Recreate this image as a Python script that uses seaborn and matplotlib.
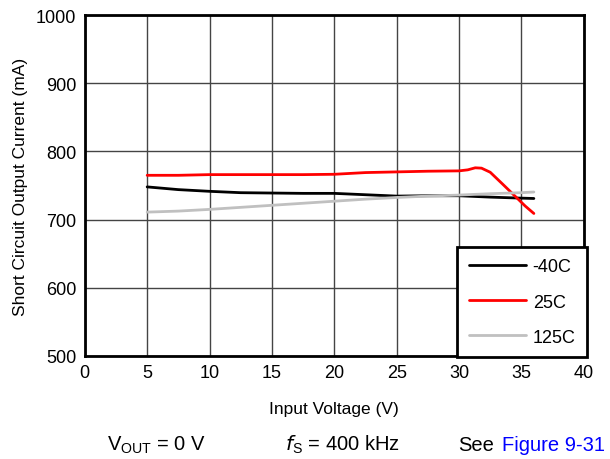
import matplotlib
matplotlib.use("Agg")
import matplotlib.pyplot as plt
import seaborn as sns
import pandas as pd

# readings
v_cold = [5, 7.5, 10, 12.5, 15, 17.5, 20, 22.5, 25, 27.5, 30, 32.5, 35, 36]
i_cold = [748, 744, 741.5, 739.5, 739, 738.5, 738.5, 736.5, 734.5, 735, 735, 733, 731.5, 731]

v_room = [5, 7.5, 10, 12.5, 15, 17.5, 20, 22.5, 25, 27.5, 30, 30.7, 31.3, 31.8, 32.5, 33.5, 34.6, 35.3, 36]
i_room = [765, 765, 766, 766, 766, 766, 766.5, 769, 770, 771, 771.5, 773, 776, 775.5, 769.5, 752, 732.5, 720, 709]

v_hot = [5, 7.5, 10, 12.5, 15, 17.5, 20, 22.5, 25, 27.5, 30, 32.5, 35, 36]
i_hot = [711, 712.5, 715, 718, 721, 724, 727, 730, 732.5, 734.5, 736, 738, 739.5, 740.5]

series_names = ["-40C", "25C", "125C"]
series_colors = ["#000000", "#ff0000", "#c0c0c0"]

frames = []
for name, vs, cs in zip(series_names, [v_cold, v_room, v_hot], [i_cold, i_room, i_hot]):
    frames.append(pd.DataFrame({"Input Voltage (V)": vs, "Current": cs, "Temp": name}))
df = pd.concat(frames, ignore_index=True)

sns.set_style("white")
plt.rcParams['font.family'] = ['Liberation Sans', 'DejaVu Sans']
plt.rcParams['text.color'] = 'black'
plt.rcParams['axes.labelcolor'] = 'black'
plt.rcParams['xtick.color'] = 'black'
plt.rcParams['ytick.color'] = 'black'

fig = plt.figure(figsize=(6.1, 4.6), dpi=100)
ax = fig.add_axes([0.139, 0.224, 0.818, 0.741])

sns.lineplot(data=df, x="Input Voltage (V)", y="Current", hue="Temp",
             palette=dict(zip(series_names, series_colors)), hue_order=series_names,
             linewidth=2, sort=False, estimator=None, ax=ax)

ax.set_xlim(0, 40)
ax.set_ylim(500, 1000)
ax.set_xticks(range(0, 41, 5))
ax.set_yticks(range(500, 1001, 100))
ax.grid(True, color="#444444", linewidth=1)
ax.set_axisbelow(True)
for s in ax.spines.values():
    s.set_linewidth(2)
    s.set_color("black")
ax.tick_params(labelsize=13, length=0, pad=6)
ax.set_xlabel("Input Voltage (V)", fontsize=12.5, labelpad=14)
ax.set_ylabel("Short Circuit Output Current (mA)", fontsize=12.5, labelpad=6)

leg = ax.legend(loc="lower right", bbox_to_anchor=(1.007, -0.004), fontsize=13,
                frameon=True, fancybox=False, framealpha=1, edgecolor="black",
                handlelength=3.2, labelspacing=1.0, borderpad=0.65, handletextpad=0.35,
                borderaxespad=0)
leg.get_frame().set_linewidth(2)

fig.text(0.175, 0.02, r"V$_{\mathregular{OUT}}$ = 0 V", fontsize=14.5)
fig.text(0.467, 0.02, r"$f$$_{\mathregular{S}}$ = 400 kHz", fontsize=14.5)
fig.text(0.751, 0.02, "See", fontsize=14.5)
fig.text(0.823, 0.02, "Figure 9-31", fontsize=14.5, color="#0000ff")

fig.savefig("out.png", dpi=100)
